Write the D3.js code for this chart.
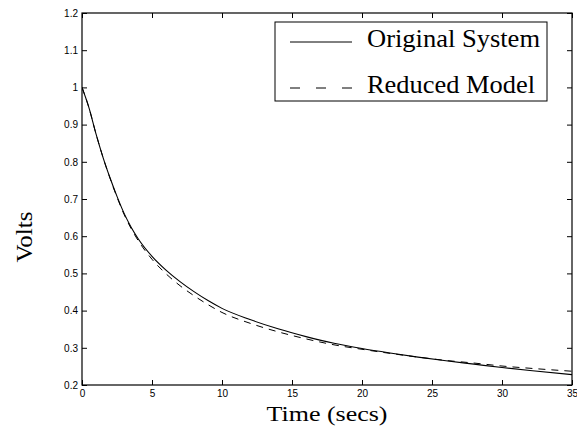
<!DOCTYPE html>
<html>
<head>
<meta charset="utf-8">
<script src="https://cdn.jsdelivr.net/npm/d3@7"></script>
<style>
  body { margin: 0; background: #fff; }
  svg { display: block; }
</style>
</head>
<body>
<script>
const timeValues = [0, 0.5, 1, 1.5, 2, 2.5, 3, 3.5, 4, 5, 6, 7, 8, 9, 10, 12, 14, 16, 18, 20, 22, 24, 26, 28, 30, 32, 35];
const originalSystem = [1.000, 0.945, 0.875, 0.812, 0.757, 0.707, 0.662, 0.625, 0.594, 0.546, 0.509, 0.478, 0.451, 0.427, 0.406, 0.376, 0.351, 0.330, 0.312, 0.298, 0.286, 0.275, 0.265, 0.256, 0.247, 0.239, 0.228];
const reducedModel   = [1.000, 0.945, 0.875, 0.812, 0.756, 0.705, 0.659, 0.621, 0.589, 0.538, 0.499, 0.467, 0.440, 0.416, 0.395, 0.366, 0.343, 0.324, 0.308, 0.296, 0.285, 0.275, 0.266, 0.259, 0.251, 0.245, 0.237];
const xTicks = [0, 5, 10, 15, 20, 25, 30, 35];
const yTicks = [0.2, 0.3, 0.4, 0.5, 0.6, 0.7, 0.8, 0.9, 1, 1.1, 1.2];
const seriesNames = ["Original System", "Reduced Model"];

(function () {
const W = 577, H = 428;
const pL = 82, pR = 572, pT = 13, pB = 385;

const svg = d3.select("body").append("svg").attr("width", W).attr("height", H);

const x = d3.scaleLinear().domain([0, 35]).range([pL, pR]);
const y = d3.scaleLinear().domain([0.2, 1.2]).range([pB, pT]);

const tickFont = "Liberation Sans, Arial, sans-serif";
const serif = "Liberation Serif, Times New Roman, serif";

const gx = svg.append("g").attr("transform", `translate(0,${pB})`)
  .call(d3.axisBottom(x).tickValues(xTicks).tickSize(-5).tickPadding(5).tickFormat(d3.format("d")));
const gxTop = svg.append("g").attr("transform", `translate(0,${pT})`)
  .call(d3.axisTop(x).tickValues(xTicks).tickSize(-5).tickFormat(""));
const gy = svg.append("g").attr("transform", `translate(${pL},0)`)
  .call(d3.axisLeft(y).tickValues(yTicks).tickSize(-5).tickPadding(4).tickFormat(d => String(+d.toFixed(1))));
const gyRight = svg.append("g").attr("transform", `translate(${pR},0)`)
  .call(d3.axisRight(y).tickValues(yTicks).tickSize(-5).tickFormat(""));

[gx, gxTop, gy, gyRight].forEach(g => {
  g.select(".domain").remove();
  g.selectAll("line").attr("stroke", "#000").attr("stroke-width", 1);
  g.selectAll("text").attr("font-family", tickFont).attr("font-size", 10).attr("fill", "#000");
});

svg.append("rect").attr("x", pL).attr("y", pT)
  .attr("width", pR - pL).attr("height", pB - pT)
  .attr("fill", "none").attr("stroke", "#000").attr("stroke-width", 1.2);

svg.append("clipPath").attr("id", "clip").append("rect")
  .attr("x", pL).attr("y", pT).attr("width", pR - pL).attr("height", pB - pT);

const line = d3.line().x(d => x(d[0])).y(d => y(d[1])).curve(d3.curveMonotoneX);
svg.append("path").datum(timeValues.map((t, i) => [t, originalSystem[i]]))
  .attr("d", line).attr("fill", "none").attr("stroke", "#000").attr("stroke-width", 1.1)
  .attr("clip-path", "url(#clip)");
svg.append("path").datum(timeValues.map((t, i) => [t, reducedModel[i]]))
  .attr("d", line).attr("fill", "none").attr("stroke", "#000").attr("stroke-width", 1)
  .attr("stroke-dasharray", "7,6").attr("clip-path", "url(#clip)");

const lg = svg.append("g");
lg.append("rect").attr("x", 275).attr("y", 22).attr("width", 272).attr("height", 79)
  .attr("fill", "#fff").attr("stroke", "#000").attr("stroke-width", 1);
const dashes = [null, "10,16"];
const textLens = [173, 168];
seriesNames.forEach((name, i) => {
  const yy = 42 + i * 46;
  lg.append("line").attr("x1", 290).attr("x2", 352).attr("y1", yy).attr("y2", yy)
    .attr("stroke", "#000").attr("stroke-width", 1)
    .attr("stroke-dasharray", dashes[i]);
  lg.append("text").attr("x", 367).attr("y", yy + 5)
    .attr("font-family", serif).attr("font-size", 25)
    .attr("textLength", textLens[i]).attr("lengthAdjust", "spacingAndGlyphs").text(name);
});

svg.append("text").attr("x", (pL + pR) / 2).attr("y", 421)
  .attr("text-anchor", "middle").attr("font-family", serif).attr("font-size", 22)
  .attr("textLength", 121).attr("lengthAdjust", "spacingAndGlyphs").text("Time (secs)");
svg.append("text").attr("transform", `translate(32,237) rotate(-90)`)
  .attr("text-anchor", "middle").attr("font-family", serif).attr("font-size", 24)
  .attr("textLength", 51).attr("lengthAdjust", "spacingAndGlyphs").text("Volts");
})();
</script>
</body>
</html>
